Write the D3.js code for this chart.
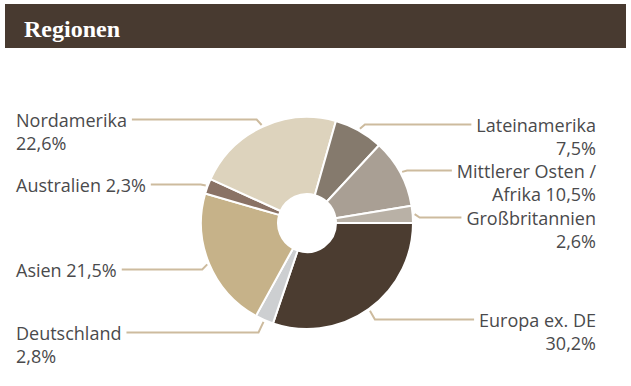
<!DOCTYPE html>
<html>
<head>
<meta charset="utf-8">
<script src="https://cdn.jsdelivr.net/npm/d3@7"></script>
<style>
  body { margin: 0; background: #fff; }
  text { font-family: "Open Sans", "Noto Sans", sans-serif; }
</style>
</head>
<body>
<div id="chart"></div>
<script>
// data, clockwise from 3 o'clock
const regions = ["Europa ex. DE", "Deutschland", "Asien", "Australien", "Nordamerika", "Lateinamerika", "Mittlerer Osten / Afrika", "Großbritannien"];
const shares = [30.2, 2.8, 21.5, 2.3, 22.6, 7.5, 10.5, 2.6];
const labelLines = [
  ["Europa ex. DE", "30,2%"],
  ["Deutschland", "2,8%"],
  ["Asien 21,5%"],
  ["Australien 2,3%"],
  ["Nordamerika", "22,6%"],
  ["Lateinamerika", "7,5%"],
  ["Mittlerer Osten /", "Afrika 10,5%"],
  ["Großbritannien", "2,6%"]
];
const colors = ["#4b3c30", "#cdcfd1", "#c6b289", "#8a7265", "#ddd3bd", "#857a6d", "#a99f94", "#b9b1a6"];

// label layout: side and baseline of first line
const labelPos = [
  {side: "right", y: 327},
  {side: "left", y: 340},
  {side: "left", y: 277},
  {side: "left", y: 192},
  {side: "left", y: 127},
  {side: "right", y: 132},
  {side: "right", y: 178},
  {side: "right", y: 225}
];

const width = 631, height = 386;
const cx = 307, cy = 223, outerR = 106, innerR = 29;

const svg = d3.select("#chart").append("svg")
  .attr("width", width)
  .attr("height", height);

// header bar
svg.append("rect")
  .attr("x", 5).attr("y", 4)
  .attr("width", 621).attr("height", 44)
  .attr("fill", "#483a30");
svg.append("text")
  .attr("x", 24).attr("y", 37)
  .style("font-family", "'Liberation Serif', 'DejaVu Serif', serif")
  .attr("font-size", "24px")
  .attr("font-weight", "bold")
  .attr("fill", "#fff")
  .text("Regionen");

const pie = d3.pie()
  .value(d => d)
  .sort(null)
  .startAngle(Math.PI / 2)
  .endAngle(Math.PI / 2 + 2 * Math.PI);

const arcs = pie(shares);

const arc = d3.arc()
  .innerRadius(innerR)
  .outerRadius(outerR);

const g = svg.append("g")
  .attr("transform", `translate(${cx},${cy})`);

g.selectAll("path.slice")
  .data(arcs)
  .enter()
  .append("path")
    .attr("class", "slice")
    .attr("d", arc)
    .attr("fill", (d, i) => colors[i])
    .attr("stroke", "#fff")
    .attr("stroke-width", 2)
    .attr("stroke-linejoin", "round");

// labels
const labels = svg.append("g");
const lineH = 23;

arcs.forEach((a, i) => {
  const pos = labelPos[i];
  const isLeft = pos.side === "left";
  const t = labels.append("text")
    .attr("font-size", "18px")
    .attr("fill", "#4a4a4c")
    .attr("text-anchor", isLeft ? "start" : "end");
  labelLines[i].forEach((s, k) => {
    t.append("tspan")
      .attr("x", isLeft ? 16 : 596)
      .attr("y", pos.y + k * lineH)
      .text(s);
  });

  // leader line
  const first = t.select("tspan").node();
  const w = first.getComputedTextLength();
  const mid = (a.startAngle + a.endAngle) / 2;
  const ax = cx + (outerR + 2) * Math.sin(mid);
  const ay = cy - (outerR + 2) * Math.cos(mid);
  const ly = pos.y - 7.5;
  const x0 = isLeft ? 16 + w + 5 : 596 - w - 5;
  const xb = isLeft ? ax - 5 : ax + 5;
  labels.append("path")
    .attr("d", `M${x0},${ly}L${xb},${ly}L${ax},${ay}`)
    .attr("fill", "none")
    .attr("stroke", "#cdbb9e")
    .attr("stroke-width", 2);
});
</script>
</body>
</html>
